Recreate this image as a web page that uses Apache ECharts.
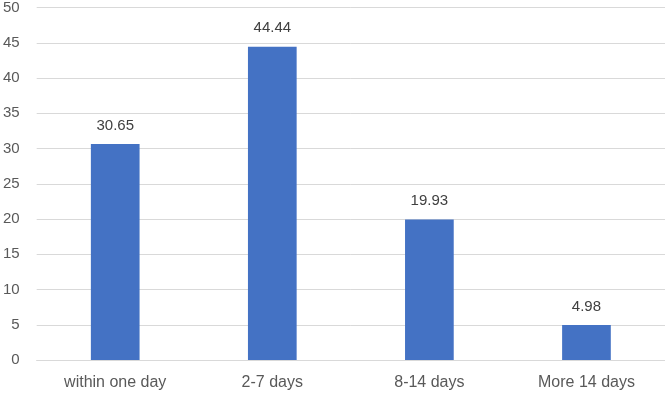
<!DOCTYPE html>
<html><head><meta charset="utf-8">
<script src="https://cdn.jsdelivr.net/npm/echarts@6/dist/echarts.min.js"></script>
<style>html,body{margin:0;padding:0;background:#fff}#c{width:665px;height:393px}</style>
</head><body><div id="c"></div>
<script>
const categories = ["within one day", "2-7 days", "8-14 days", "More 14 days"];
const values = [30.65, 44.44, 19.93, 4.98];
const yTicks = [0, 5, 10, 15, 20, 25, 30, 35, 40, 45, 50];

const chart = echarts.init(document.getElementById('c'));
const font = "Liberation Sans, Arial, sans-serif";
chart.setOption({
  animation: false,
  grid: { left: 35, right: 0, top: 6, bottom: 33, containLabel: false },
  xAxis: {
    type: 'category', data: categories,
    axisLine: { show: true, lineStyle: { color: '#d9d9d9', width: 1 } },
    axisTick: { show: false },
    axisLabel: { color: '#595959', fontSize: 16, fontFamily: font, margin: 15 }
  },
  yAxis: {
    type: 'value', min: yTicks[0], max: yTicks[yTicks.length - 1], interval: 5,
    axisLine: { show: false }, axisTick: { show: false },
    splitLine: { lineStyle: { color: '#d9d9d9', width: 1 } },
    axisLabel: { color: '#595959', fontSize: 15, fontFamily: font, margin: 17 }
  },
  series: [{
    type: 'bar', data: values, barWidth: '31%',
    itemStyle: { color: '#4472C4' },
    label: { show: true, position: 'top', distance: 11, color: '#404040', fontSize: 15, fontFamily: font,
      formatter: p => p.value.toFixed(2) }
  }]
});
</script></body></html>
